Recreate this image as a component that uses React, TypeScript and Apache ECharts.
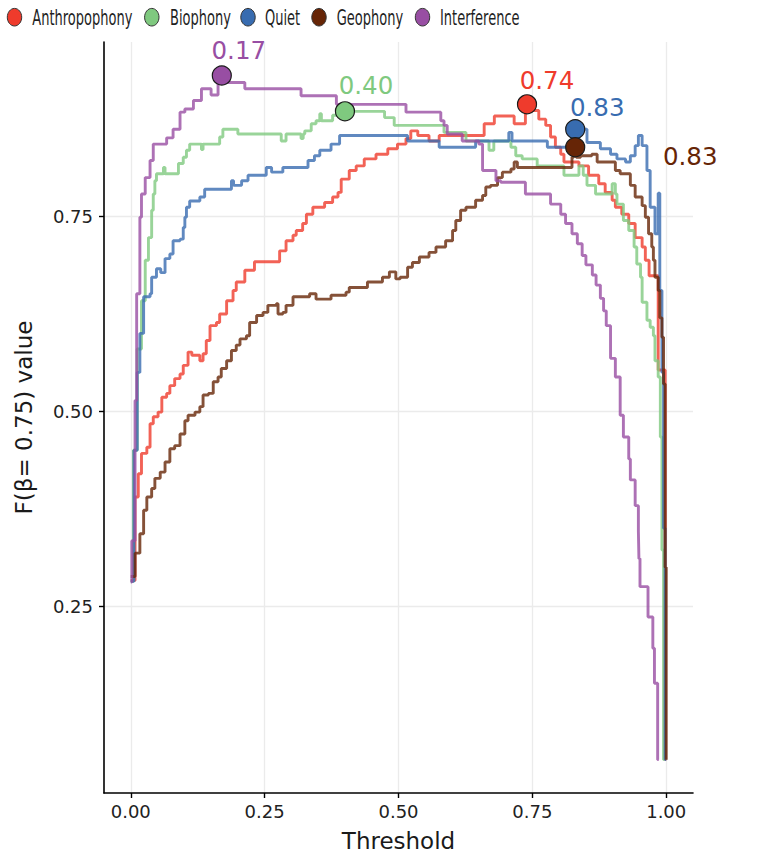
import React, { useEffect, useRef } from "react";
import * as echarts from "echarts";

// F-beta curves per sound class: [threshold, F(β=0.75)] at each step change
const anthropophony: [number, number][] = [
  [0, 0.283], [0.008, 0.39], [0.014, 0.42], [0.02, 0.446], [0.03, 0.454], [0.036, 0.484],
  [0.042, 0.493], [0.051, 0.499], [0.058, 0.518], [0.067, 0.523], [0.073, 0.533], [0.082, 0.542],
  [0.092, 0.548], [0.098, 0.559], [0.107, 0.576], [0.114, 0.572], [0.129, 0.565], [0.135, 0.574],
  [0.141, 0.591], [0.148, 0.61], [0.16, 0.614], [0.166, 0.625], [0.179, 0.642], [0.191, 0.655],
  [0.197, 0.666], [0.213, 0.681], [0.231, 0.692], [0.278, 0.706], [0.29, 0.719], [0.303, 0.726],
  [0.309, 0.732], [0.321, 0.741], [0.328, 0.753], [0.34, 0.762], [0.362, 0.768], [0.377, 0.775],
  [0.387, 0.781], [0.393, 0.798], [0.408, 0.809], [0.421, 0.815], [0.436, 0.824], [0.458, 0.83],
  [0.48, 0.837], [0.498, 0.843], [0.514, 0.85], [0.523, 0.86], [0.536, 0.854], [0.557, 0.847],
  [0.576, 0.854], [0.66, 0.869], [0.679, 0.879], [0.716, 0.869], [0.737, 0.894], [0.745, 0.886],
  [0.762, 0.875], [0.775, 0.867], [0.784, 0.852], [0.793, 0.839], [0.803, 0.83], [0.809, 0.82],
  [0.837, 0.815], [0.855, 0.803], [0.874, 0.792], [0.886, 0.781], [0.899, 0.771], [0.905, 0.762],
  [0.917, 0.753], [0.93, 0.741], [0.942, 0.723], [0.955, 0.711], [0.961, 0.694], [0.968, 0.674],
  [0.985, 0.553], [0.998, 0.053], [1.0, 0.053],
];

const biophony: [number, number][] = [
  [0, 0.282], [0.005, 0.45], [0.012, 0.58], [0.02, 0.642], [0.027, 0.694], [0.033, 0.723],
  [0.039, 0.758], [0.042, 0.779], [0.045, 0.796], [0.048, 0.805], [0.061, 0.813], [0.064, 0.805],
  [0.089, 0.818], [0.098, 0.826], [0.104, 0.835], [0.11, 0.843], [0.132, 0.836], [0.135, 0.843],
  [0.166, 0.852], [0.172, 0.862], [0.2, 0.856], [0.281, 0.847], [0.29, 0.856], [0.318, 0.85],
  [0.322, 0.856], [0.325, 0.86], [0.337, 0.869], [0.346, 0.873], [0.353, 0.882], [0.356, 0.873],
  [0.377, 0.88], [0.395, 0.885], [0.474, 0.877], [0.492, 0.867], [0.585, 0.858], [0.626, 0.847],
  [0.669, 0.835], [0.678, 0.847], [0.71, 0.839], [0.719, 0.828], [0.731, 0.824], [0.759, 0.815],
  [0.809, 0.803], [0.837, 0.815], [0.845, 0.803], [0.852, 0.79], [0.868, 0.779], [0.899, 0.792],
  [0.905, 0.779], [0.908, 0.766], [0.92, 0.745], [0.93, 0.732], [0.94, 0.711], [0.945, 0.689],
  [0.952, 0.672], [0.955, 0.64], [0.964, 0.617], [0.97, 0.608], [0.976, 0.597], [0.979, 0.565],
  [0.985, 0.544], [0.989, 0.467], [0.992, 0.322], [0.995, 0.053], [0.997, 0.053],
];

const quiet: [number, number][] = [
  [0, 0.282], [0.006, 0.45], [0.012, 0.55], [0.017, 0.6], [0.024, 0.647], [0.036, 0.651],
  [0.039, 0.672], [0.048, 0.683], [0.056, 0.678], [0.064, 0.696], [0.073, 0.702], [0.079, 0.719],
  [0.092, 0.721], [0.098, 0.736], [0.101, 0.749], [0.104, 0.762], [0.11, 0.77], [0.129, 0.775],
  [0.138, 0.785], [0.188, 0.796], [0.192, 0.79], [0.207, 0.796], [0.219, 0.803], [0.253, 0.813],
  [0.263, 0.807], [0.284, 0.813], [0.331, 0.822], [0.343, 0.828], [0.353, 0.835], [0.374, 0.843],
  [0.39, 0.854], [0.517, 0.847], [0.576, 0.839], [0.644, 0.847], [0.706, 0.858], [0.712, 0.847],
  [0.778, 0.839], [0.83, 0.862], [0.852, 0.845], [0.877, 0.837], [0.896, 0.83], [0.908, 0.824],
  [0.924, 0.82], [0.933, 0.828], [0.942, 0.841], [0.948, 0.854], [0.955, 0.841], [0.964, 0.809],
  [0.97, 0.762], [0.979, 0.728], [0.985, 0.78], [0.988, 0.655], [0.992, 0.55], [0.995, 0.35],
  [0.998, 0.053], [1.0, 0.053],
];

const geophony: [number, number][] = [
  [0, 0.288], [0.008, 0.318], [0.017, 0.343], [0.024, 0.373], [0.03, 0.39], [0.039, 0.401],
  [0.045, 0.414], [0.055, 0.422], [0.064, 0.435], [0.073, 0.452], [0.082, 0.456], [0.092, 0.471],
  [0.101, 0.488], [0.107, 0.495], [0.12, 0.499], [0.129, 0.506], [0.135, 0.521], [0.145, 0.523],
  [0.154, 0.538], [0.163, 0.544], [0.169, 0.555], [0.179, 0.565], [0.188, 0.578], [0.197, 0.585],
  [0.204, 0.593], [0.216, 0.597], [0.222, 0.614], [0.235, 0.623], [0.247, 0.627], [0.256, 0.636],
  [0.272, 0.638], [0.275, 0.625], [0.284, 0.627], [0.29, 0.636], [0.303, 0.647], [0.334, 0.651],
  [0.346, 0.644], [0.374, 0.649], [0.402, 0.653], [0.408, 0.659], [0.442, 0.666], [0.47, 0.672],
  [0.483, 0.679], [0.495, 0.67], [0.503, 0.672], [0.517, 0.685], [0.526, 0.691], [0.539, 0.698],
  [0.557, 0.704], [0.57, 0.711], [0.588, 0.719], [0.601, 0.732], [0.607, 0.745], [0.616, 0.758],
  [0.626, 0.762], [0.644, 0.771], [0.657, 0.777], [0.663, 0.788], [0.672, 0.79], [0.685, 0.8],
  [0.694, 0.807], [0.71, 0.811], [0.716, 0.82], [0.722, 0.813], [0.824, 0.826], [0.827, 0.839],
  [0.832, 0.826], [0.84, 0.828], [0.861, 0.83], [0.871, 0.82], [0.905, 0.809], [0.914, 0.805],
  [0.933, 0.79], [0.942, 0.775], [0.955, 0.764], [0.961, 0.749], [0.967, 0.728], [0.973, 0.711],
  [0.976, 0.694], [0.979, 0.672], [0.985, 0.655], [0.988, 0.62], [0.992, 0.595], [0.995, 0.535],
  [0.998, 0.3], [1.0, 0.053], [1.001, 0.053],
];

const interference: [number, number][] = [
  [0, 0.281], [0.002, 0.334], [0.008, 0.514], [0.011, 0.651], [0.017, 0.749], [0.02, 0.779],
  [0.027, 0.8], [0.036, 0.822], [0.042, 0.843], [0.067, 0.851], [0.079, 0.862], [0.092, 0.884],
  [0.101, 0.888], [0.117, 0.899], [0.132, 0.914], [0.15, 0.906], [0.163, 0.922], [0.17, 0.931],
  [0.175, 0.922], [0.213, 0.914], [0.318, 0.905], [0.384, 0.894], [0.514, 0.884], [0.579, 0.873],
  [0.585, 0.867], [0.591, 0.856], [0.619, 0.847], [0.65, 0.843], [0.657, 0.809], [0.682, 0.796],
  [0.691, 0.794], [0.737, 0.779], [0.784, 0.766], [0.803, 0.753], [0.812, 0.741], [0.824, 0.728],
  [0.834, 0.715], [0.843, 0.7], [0.85, 0.688], [0.862, 0.675], [0.869, 0.662], [0.877, 0.645],
  [0.883, 0.629], [0.888, 0.61], [0.896, 0.568], [0.905, 0.544], [0.914, 0.495], [0.92, 0.467],
  [0.93, 0.439], [0.933, 0.412], [0.942, 0.379], [0.948, 0.346], [0.949, 0.311], [0.951, 0.275],
  [0.966, 0.236], [0.975, 0.196], [0.978, 0.151], [0.984, 0.053], [0.986, 0.053],
];

const classNames = ["Anthropophony", "Biophony", "Quiet", "Geophony", "Interference"];
const classColors = ["#EF3B2C", "#7FC97F", "#386CB0", "#662506", "#984EA3"];
const curves = [anthropophony, biophony, quiet, geophony, interference];

// best threshold and its F score for each class
const bestThreshold = [0.74, 0.4, 0.83, 0.83, 0.17];
const bestScore = [0.894, 0.885, 0.862, 0.839, 0.931];
// label offsets in pixels from each marker
const labelOffsets: [number, number][] = [[20, -24], [21, -26], [22, -22], [115, 9], [17, -25]];

const xTicks = [0, 0.25, 0.5, 0.75, 1];
const yTicks = [0.25, 0.5, 0.75];

// legend layout (circle centre x, text left x)
const legendCircleX = [14.5, 151.8, 248, 319, 422.5];
const legendTextX = [32.3, 170, 265, 336.7, 440];

const FONT = "DejaVu Sans";

export default function App() {
  const ref = useRef<HTMLDivElement>(null);

  useEffect(() => {
    if (!ref.current) return;
    const chart = echarts.init(ref.current, undefined, { renderer: "svg" });

    const lineSeries = curves.map((data, i) => ({
      name: classNames[i],
      type: "line",
      step: "end",
      data,
      showSymbol: false,
      symbol: "none",
      lineStyle: { color: classColors[i], width: 2.9, opacity: 0.8 },
      itemStyle: { color: classColors[i] },
      z: 2 + i,
    }));

    const markerSeries = {
      type: "scatter",
      symbolSize: 19,
      z: 20,
      data: bestThreshold.map((t, i) => ({
        value: [t, bestScore[i]],
        itemStyle: { color: classColors[i], borderColor: "#1a1a1a", borderWidth: 1.2, opacity: 1 },
        label: {
          show: true,
          position: "inside",
          offset: labelOffsets[i],
          formatter: t.toFixed(2),
          color: classColors[i],
          opacity: 1,
          fontSize: 24.5,
          fontFamily: FONT,
        },
      })),
    };

    const legendGraphics: any[] = [];
    classNames.forEach((name, i) => {
      legendGraphics.push({
        type: "ellipse",
        shape: { cx: legendCircleX[i], cy: 17.2, rx: 7.2, ry: 8.8 },
        style: { fill: classColors[i], stroke: "#333", lineWidth: 1 },
      });
      legendGraphics.push({
        type: "text",
        x: legendTextX[i],
        y: 18,
        scaleX: 0.635,
        style: {
          text: name,
          fontSize: 20.5,
          fontFamily: FONT,
          fill: "#1f1f1f",
          align: "left",
          verticalAlign: "middle",
          textAlign: "left",
          textVerticalAlign: "middle",
        },
      });
    });

    chart.setOption({
      animation: false,
      textStyle: { fontFamily: FONT },
      grid: { left: 104, right: 72, top: 42, bottom: 64, containLabel: false },
      xAxis: {
        type: "value",
        min: -0.05,
        max: 1.05,
        name: "Threshold",
        nameLocation: "middle",
        nameGap: 36,
        nameTextStyle: { fontSize: 23, color: "#1a1a1a", fontFamily: FONT },
        axisLine: { show: true, onZero: false, lineStyle: { color: "#000", width: 1.6 } },
        axisTick: { show: true, length: 5, customValues: xTicks, lineStyle: { color: "#000", width: 1.4 } },
        axisLabel: {
          customValues: xTicks,
          formatter: (v: number) => v.toFixed(2),
          fontSize: 18,
          color: "#222",
          margin: 9,
          fontFamily: FONT,
        },
        splitLine: { show: true, lineStyle: { color: "#ebebeb", width: 1.3 } },
      },
      yAxis: {
        type: "value",
        min: 0.0102,
        max: 0.974,
        name: "F(β= 0.75) value",
        nameLocation: "middle",
        nameGap: 69,
        nameTextStyle: { fontSize: 23, color: "#1a1a1a", fontFamily: FONT },
        axisLine: { show: true, onZero: false, lineStyle: { color: "#000", width: 1.6 } },
        axisTick: { show: true, length: 5, customValues: yTicks, lineStyle: { color: "#000", width: 1.4 } },
        axisLabel: {
          customValues: yTicks,
          formatter: (v: number) => v.toFixed(2),
          fontSize: 18,
          color: "#222",
          margin: 11,
          fontFamily: FONT,
        },
        splitLine: { show: true, lineStyle: { color: "#ebebeb", width: 1.3 } },
      },
      graphic: legendGraphics,
      series: [...lineSeries, markerSeries],
    });

    return () => chart.dispose();
  }, []);

  return (
    <div
      ref={ref}
      style={{ position: "fixed", left: 0, top: 0, width: 765, height: 857, background: "#fff" }}
    />
  );
}
